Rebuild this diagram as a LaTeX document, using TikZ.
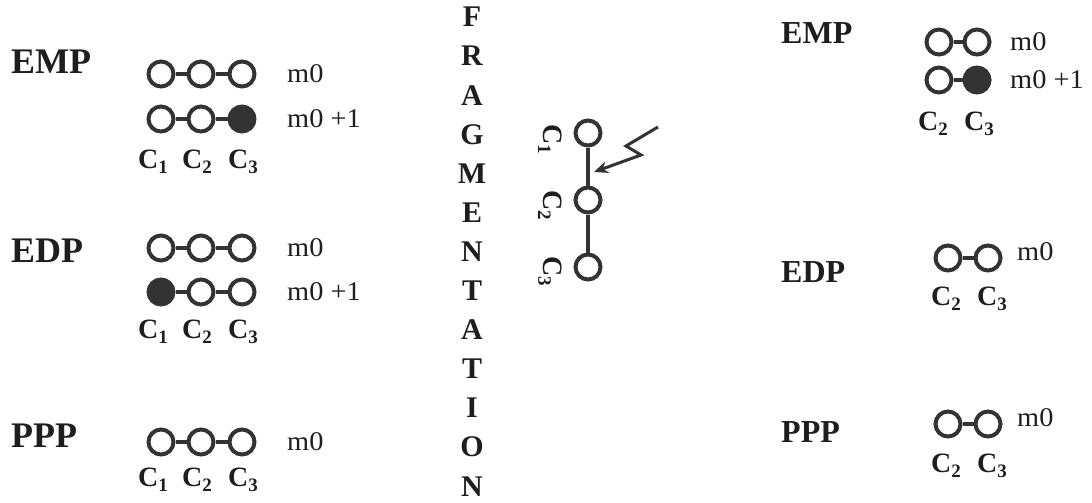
\documentclass[tikz,border=0pt]{standalone}
\usepackage{fontspec}
\setmainfont{Liberation Serif}
\usetikzlibrary{arrows.meta}
\definecolor{ink}{HTML}{333333}
\definecolor{txt}{HTML}{1E1E1E}
\newcommand{\csub}[1]{C\raisebox{-5pt}{\fontsize{19}{19}\selectfont #1}}
\newcommand{\hstr}[2]{\scalebox{#1}[1]{#2}}
\begin{document}
\begin{tikzpicture}[x=1pt,y=-1pt,
 atom/.style={circle,draw=ink,line width=4pt,minimum size=25pt,inner sep=0pt,fill=white},
 full/.style={atom,fill=ink},
 bond/.style={draw=ink,line width=3.2pt},
 grp/.style={font=\fontsize{36}{36}\selectfont\bfseries,text=txt,anchor=base west,inner sep=0pt},
 grpr/.style={grp,font=\fontsize{32}{32}\selectfont\bfseries},
 mass/.style={font=\fontsize{27}{27}\selectfont,text=txt,anchor=west,inner sep=0pt},
 massb/.style={mass,anchor=base west},
 clab/.style={font=\fontsize{28}{28}\selectfont\bfseries,text=txt,anchor=base,inner sep=0pt},
 vlet/.style={font=\fontsize{30}{30}\selectfont\bfseries,text=txt,inner sep=0pt},
 zap/.style={draw=ink,line width=3pt,line join=miter,-{Stealth[length=14pt,width=12pt]}}
]
\useasboundingbox[fill=white] (0,0) rectangle (1092,503);

% ---------- left: EMP ----------
\node[grp] (lEMP) at (11,74) {EMP};
\node[atom] (e11) at (161,74) {};
\node[atom] (e12) at (201,74) {};
\node[atom] (e13) at (242,74) {};
\draw[bond] (e11) -- (e12) (e12) -- (e13);
\node[mass] (em0) at (287,74) {\hstr{1.05}{m0}};
\node[atom] (e21) at (161,119) {};
\node[atom] (e22) at (201,119) {};
\node[full] (e23) at (242,119) {};
\draw[bond] (e21) -- (e22) (e22) -- (e23);
\node[mass] (em1) at (287,119) {\hstr{1.05}{m0 +1}};
\node[clab] (ec1) at (153,168) {\csub{1}};
\node[clab] (ec2) at (197,168) {\csub{2}};
\node[clab] (ec3) at (243,168) {\csub{3}};

% ---------- left: EDP ----------
\node[grp] (lEDP) at (11,262) {EDP};
\node[atom] (d11) at (161,248) {};
\node[atom] (d12) at (201,248) {};
\node[atom] (d13) at (242,248) {};
\draw[bond] (d11) -- (d12) (d12) -- (d13);
\node[mass] (dm0) at (287,248) {\hstr{1.05}{m0}};
\node[full] (d21) at (161,292) {};
\node[atom] (d22) at (201,292) {};
\node[atom] (d23) at (242,292) {};
\draw[bond] (d21) -- (d22) (d22) -- (d23);
\node[mass] (dm1) at (287,292) {\hstr{1.05}{m0 +1}};
\node[clab] (dc1) at (153,338) {\csub{1}};
\node[clab] (dc2) at (197,338) {\csub{2}};
\node[clab] (dc3) at (243,338) {\csub{3}};

% ---------- left: PPP ----------
\node[grp] (lPPP) at (11,447) {PPP};
\node[atom] (p11) at (161,442) {};
\node[atom] (p12) at (201,442) {};
\node[atom] (p13) at (242,442) {};
\draw[bond] (p11) -- (p12) (p12) -- (p13);
\node[mass] (pm0) at (287,442) {\hstr{1.05}{m0}};
\node[clab] (pc1) at (153,486) {\csub{1}};
\node[clab] (pc2) at (197,486) {\csub{2}};
\node[clab] (pc3) at (243,486) {\csub{3}};

% ---------- FRAGMENTATION ----------
\foreach \l [count=\i from 0] in {F,R,A,G,M,E,N,T,A,T,I,O,N}{
  \node[vlet] (fr\i) at (472,{17+\i*39.1}) {\l};
}

% ---------- middle chain ----------
\node[atom] (m1) at (588,133) {};
\node[atom] (m2) at (588,200) {};
\node[atom] (m3) at (588,267) {};
\draw[bond] (m1) -- (m2) (m2) -- (m3);
\node[clab,anchor=center,rotate=-90] (mc1) at (550,139) {\csub{1}};
\node[clab,anchor=center,rotate=-90] (mc2) at (550,205) {\csub{2}};
\node[clab,anchor=center,rotate=-90] (mc3) at (550,271) {\csub{3}};
\coordinate (z0) at (658,127);
\coordinate (z1) at (626,146);
\coordinate (z2) at (641,155);
\coordinate (z3) at (594,172);
\draw[zap] (z0) -- (z1) -- (z2) -- (z3);

% ---------- right: EMP ----------
\node[grpr] (rEMP) at (781,44) {EMP};
\node[atom] (r11) at (939,42) {};
\node[atom] (r12) at (977,42) {};
\draw[bond] (r11) -- (r12);
\node[mass] (rm0) at (1010,42) {\hstr{1.05}{m0}};
\node[atom] (r21) at (939,80) {};
\node[full] (r22) at (977,80) {};
\draw[bond] (r21) -- (r22);
\node[mass] (rm1) at (1010,80) {\hstr{1.05}{m0 +1}};
\node[clab] (rc2) at (933,130) {\csub{2}};
\node[clab] (rc3) at (979,130) {\csub{3}};

% ---------- right: EDP ----------
\node[grpr] (rEDP) at (781,282) {EDP};
\node[atom] (s11) at (948,258) {};
\node[atom] (s12) at (988,258) {};
\draw[bond] (s11) -- (s12);
\node[massb] (sm0) at (1017,260) {\hstr{1.05}{m0}};
\node[clab] (sc2) at (946,305) {\csub{2}};
\node[clab] (sc3) at (992,305) {\csub{3}};

% ---------- right: PPP ----------
\node[grpr] (rPPP) at (781,442) {PPP};
\node[atom] (t11) at (948,424) {};
\node[atom] (t12) at (988,424) {};
\draw[bond] (t11) -- (t12);
\node[massb] (tm0) at (1017,426) {\hstr{1.05}{m0}};
\node[clab] (tc2) at (946,472) {\csub{2}};
\node[clab] (tc3) at (992,472) {\csub{3}};
\end{tikzpicture}
\end{document}
